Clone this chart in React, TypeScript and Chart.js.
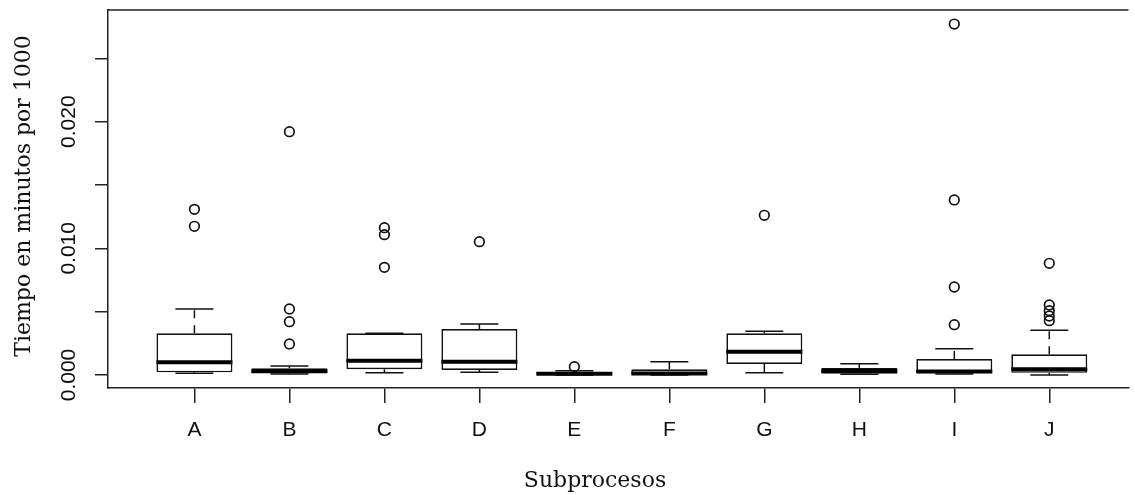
import React, { useEffect, useRef } from 'react';
import { Chart, registerables } from 'chart.js';

Chart.register(...registerables);

// ---- data ----
const categories = ['A', 'B', 'C', 'D', 'E', 'F', 'G', 'H', 'I', 'J'];
const lowerWhisker = [0.00013, 0.00008, 0.00018, 0.00021, 0.0, 0.00001, 0.00018, 0.00005, 0.00008, 0.0];
const lowerQuartile = [0.00021, 0.00016, 0.00045, 0.00039, 0.0, 0.00002, 0.00087, 0.00009, 0.00013, 0.00017];
const medians = [0.001, 0.0003, 0.00113, 0.00105, 0.0001, 0.00012, 0.00184, 0.00032, 0.00028, 0.00045];
const upperQuartile = [0.00329, 0.00053, 0.00329, 0.00363, 0.00024, 0.00045, 0.00329, 0.00055, 0.00126, 0.00163];
const upperWhisker = [0.00521, 0.00071, 0.0033, 0.00403, 0.00034, 0.00105, 0.00345, 0.00089, 0.00208, 0.00353];
const outliers = [
  [0.01308, 0.01174],
  [0.01921, 0.00521, 0.00421, 0.00245],
  [0.01163, 0.01108, 0.0085],
  [0.01053],
  [0.00066],
  [],
  [0.01261],
  [],
  [0.02771, 0.01382, 0.00695, 0.00397],
  [0.00882, 0.00553, 0.00508, 0.00466, 0.00429],
];
const yTickValues = [0, 0.005, 0.01, 0.015, 0.02, 0.025];
const yTickLabels = ['0.000', '', '0.010', '', '0.020', ''];
const xTitle = 'Subprocesos';
const yTitle = 'Tiempo en minutos por 1000';

const BOX_HALF = 0.4; // half box width in category units
const CAP_HALF = 0.2; // half staple width

const INK = '#111';
const AXIS = '#222';
const SANS = '"Liberation Sans", Arial, sans-serif';
const SERIF = '"DejaVu Serif", serif';

const gap = (i: number) => ({ x: i + 1, y: null as number | null });

const boxData = categories.map((_, i) => ({ x: i + 1, y: [lowerQuartile[i], upperQuartile[i]] }));
const medianData = categories.flatMap((_, i) => [
  { x: i + 1 - BOX_HALF, y: medians[i] },
  { x: i + 1 + BOX_HALF, y: medians[i] },
  gap(i),
]);
const capData = categories.flatMap((_, i) => [
  { x: i + 1 - CAP_HALF, y: upperWhisker[i] },
  { x: i + 1 + CAP_HALF, y: upperWhisker[i] },
  gap(i),
  { x: i + 1 - CAP_HALF, y: lowerWhisker[i] },
  { x: i + 1 + CAP_HALF, y: lowerWhisker[i] },
  gap(i),
]);
const whiskerData = categories.flatMap((_, i) => [
  { x: i + 1, y: upperQuartile[i] },
  { x: i + 1, y: upperWhisker[i] },
  gap(i),
  { x: i + 1, y: lowerQuartile[i] },
  { x: i + 1, y: lowerWhisker[i] },
  gap(i),
]);
const outlierData = categories.flatMap((_, i) => outliers[i].map((v) => ({ x: i + 1, y: v })));

const framePlugin = {
  id: 'frameAndTitles',
  afterDraw(chart: any) {
    const { ctx, chartArea } = chart;
    ctx.save();
    ctx.strokeStyle = AXIS;
    ctx.lineWidth = 1.5;
    ctx.beginPath();
    ctx.moveTo(chartArea.left, chartArea.top);
    ctx.lineTo(chartArea.right, chartArea.top);
    ctx.stroke();

    ctx.fillStyle = INK;
    ctx.font = `22px ${SERIF}`;
    ctx.textAlign = 'center';
    ctx.textBaseline = 'alphabetic';
    ctx.fillText(xTitle, 595, 486.5);
    ctx.translate(29.5, 196);
    ctx.rotate(-Math.PI / 2);
    ctx.fillText(yTitle, 0, 0);
    ctx.restore();
  },
};

export default function App() {
  const ref = useRef<HTMLCanvasElement>(null);

  useEffect(() => {
    const canvas = ref.current;
    if (!canvas) return;
    const chart = new Chart(canvas, {
      type: 'bar',
      data: {
        datasets: [
          {
            type: 'scatter',
            data: outlierData,
            pointStyle: 'circle',
            pointRadius: 4.8,
            pointBorderWidth: 1.7,
            pointBorderColor: INK,
            pointBackgroundColor: 'rgba(0,0,0,0)',
            order: 1,
          } as any,
          {
            type: 'line',
            data: medianData,
            borderColor: '#000',
            borderWidth: 4,
            borderCapStyle: 'butt',
            pointRadius: 0,
            spanGaps: false,
            order: 2,
          } as any,
          {
            type: 'line',
            data: capData,
            borderColor: INK,
            borderWidth: 1.5,
            borderCapStyle: 'butt',
            pointRadius: 0,
            spanGaps: false,
            order: 3,
          } as any,
          {
            type: 'line',
            data: whiskerData,
            borderColor: INK,
            borderWidth: 1.5,
            borderDash: [8, 7],
            borderCapStyle: 'butt',
            pointRadius: 0,
            spanGaps: false,
            order: 4,
          } as any,
          {
            type: 'bar',
            data: boxData,
            backgroundColor: '#ffffff',
            borderColor: INK,
            borderWidth: 1.7,
            borderSkipped: false,
            categoryPercentage: 1,
            barPercentage: 2 * BOX_HALF,
            order: 5,
          } as any,
        ],
      },
      options: {
        responsive: false,
        animation: false,
        devicePixelRatio: 1,
        events: [],
        layout: { padding: { top: 10, left: 0, right: 0, bottom: 0 } },
        plugins: { legend: { display: false }, tooltip: { enabled: false } },
        scales: {
          x: {
            type: 'linear',
            offset: false,
            min: 0.09,
            max: 10.834,
            afterBuildTicks: (axis: any) => {
              axis.ticks = categories.map((_, i) => ({ value: i + 1 }));
            },
            afterFit: (axis: any) => {
              axis.height = 107;
            },
            ticks: {
              autoSkip: false,
              minRotation: 0,
              maxRotation: 0,
              padding: 15,
              color: INK,
              font: { family: SANS, size: 21 },
              callback: (_v: any, i: number) => categories[i],
            },
            grid: { offset: false, drawOnChartArea: false, drawTicks: true, tickLength: 15, color: AXIS, lineWidth: 1.5 },
            border: { display: true, color: AXIS, width: 1.5 },
          },
          y: {
            type: 'linear',
            min: -0.001026,
            max: 0.028818,
            afterBuildTicks: (axis: any) => {
              axis.ticks = yTickValues.map((v) => ({ value: v }));
            },
            afterFit: (axis: any) => {
              axis.width = 108;
            },
            ticks: {
              autoSkip: false,
              minRotation: 90,
              maxRotation: 90,
              padding: 0,
              crossAlign: 'center',
              color: INK,
              font: { family: SANS, size: 21, lineHeight: 0.9 },
              callback: (_v: any, i: number) => yTickLabels[i],
            },
            grid: { drawOnChartArea: false, drawTicks: true, tickLength: 13, color: AXIS, lineWidth: 1.5 },
            border: { display: true, color: AXIS, width: 1.5 },
          },
        },
      } as any,
      plugins: [framePlugin],
    });
    return () => chart.destroy();
  }, []);

  return (
    <div style={{ position: 'fixed', left: 0, top: 0, width: 1135, height: 495, background: '#fff' }}>
      <canvas ref={ref} width={1135} height={495} style={{ display: 'block', width: 1135, height: 495 }} />
    </div>
  );
}
